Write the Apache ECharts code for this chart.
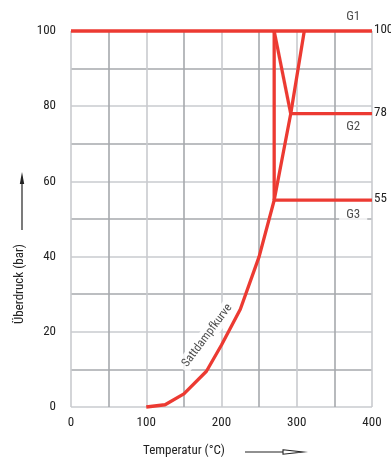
<!DOCTYPE html>
<html>
<head>
<meta charset="utf-8">
<script src="https://cdn.jsdelivr.net/npm/echarts@6/dist/echarts.min.js"></script>
<style>
  html, body { margin: 0; padding: 0; background: #fff; }
  #chart { width: 391px; height: 459px; }
</style>
</head>
<body>
<div id="chart"></div>
<script>
// Saturated steam curve: temperature (°C) vs. gauge pressure (bar)
const curveTemp = [100, 125, 150, 180, 200, 225, 250, 270, 292, 310];
const curvePressure = [0, 0.6, 3.5, 9.5, 16.5, 26, 40, 55, 78, 100];

// Pressure stages G1..G3 and the start temperature of each level line
const stageNames = ['G1', 'G2', 'G3'];
const stagePressure = [100, 78, 55];
const stageStartTemp = [0, 292, 270];

// Connecting lines between stages
const verticalTemp = [270, 270];
const verticalPressure = [55, 100];
const diagonalTemp = [270, 292];
const diagonalPressure = [100, 78];

// Axis ticks
const xTicks = [0, 100, 200, 300, 400];
const yTicks = [0, 20, 40, 60, 80, 100];
const curveLabel = 'Sattdampfkurve';
const curveLabelPos = [181, 19];
const stageLabelTemp = 375;

const RED = '#ec3a32';
const FONT = '"Roboto Condensed", "Liberation Sans Narrow", sans-serif';
const GRID_COLORS = ['#c9cbcf', '#a6a9ad'];

const zip = (xs, ys) => xs.map((x, i) => [x, ys[i]]);
const redLine = { color: RED, width: 3.3 };

const series = [];

// saturation curve
series.push({
  type: 'line', data: zip(curveTemp, curvePressure), symbol: 'none',
  lineStyle: redLine, clip: false, z: 5
});

// stage level lines with value labels at the right end
stagePressure.forEach((p, i) => {
  series.push({
    type: 'line', data: [[stageStartTemp[i], p], [xTicks[xTicks.length - 1], p]],
    symbol: 'none', lineStyle: redLine, clip: false, z: 5,
    endLabel: {
      show: true, formatter: String(p), distance: 2,
      color: '#222', fontFamily: FONT, fontSize: 13, offset: [0, -1]
    }
  });
});

series.push({
  type: 'line', data: zip(verticalTemp, verticalPressure), symbol: 'none',
  lineStyle: redLine, clip: false, z: 5
});
series.push({
  type: 'line', data: zip(diagonalTemp, diagonalPressure), symbol: 'none',
  lineStyle: redLine, clip: false, z: 5
});

// stage names: G1 above its line, G2/G3 below
stageNames.forEach((name, i) => {
  series.push({
    type: 'scatter', symbolSize: 0, clip: false, z: 6,
    data: [[stageLabelTemp, stagePressure[i]]],
    label: {
      show: true, formatter: name,
      position: i === 0 ? 'top' : 'bottom', distance: i === 0 ? 8 : 7,
      color: '#222', fontFamily: FONT, fontSize: 13,
      backgroundColor: i === 2 ? '#fff' : 'transparent',
      padding: i === 2 ? [1, 7, 1, 7] : 0
    }
  });
});

// curve name along the curve
series.push({
  type: 'scatter', symbolSize: 0, clip: false, z: 4,
  data: [curveLabelPos],
  label: {
    show: true, formatter: curveLabel, position: 'inside', rotate: 53,
    color: '#222', fontFamily: FONT, fontSize: 12,
    backgroundColor: '#fff', padding: [2, 4]
  }
});

const chart = echarts.init(document.getElementById('chart'), null, { renderer: 'canvas' });
chart.setOption({
  animation: false,
  backgroundColor: '#fff',
  grid: { left: 71, right: 19, top: 31, bottom: 52, containLabel: false },
  xAxis: {
    type: 'value', min: 0, max: 400, interval: 50,
    axisLine: { show: false }, axisTick: { show: false },
    axisLabel: {
      margin: 9, color: '#222', fontFamily: FONT, fontSize: 13,
      formatter: v => (xTicks.includes(v) ? String(v) : '')
    },
    splitLine: { show: true, lineStyle: { color: GRID_COLORS, width: 1.6 } }
  },
  yAxis: {
    type: 'value', min: 0, max: 100, interval: 10,
    axisLine: { show: false }, axisTick: { show: false },
    axisLabel: {
      margin: 15, color: '#222', fontFamily: FONT, fontSize: 13,
      formatter: v => (yTicks.includes(v) ? String(v) : '')
    },
    splitLine: { show: true, lineStyle: { color: GRID_COLORS, width: 1.6 } }
  },
  graphic: [
    // y-axis title with upward arrow
    {
      type: 'text', x: 20, y: 284, rotation: Math.PI / 2, z: 10,
      style: { text: 'Überdruck (bar)', fill: '#222', font: '13px ' + FONT,
               textAlign: 'center', textVerticalAlign: 'middle' }
    },
    { type: 'line', shape: { x1: 22, y1: 230, x2: 22, y2: 180 },
      style: { stroke: '#222', lineWidth: 1.2 } },
    { type: 'polygon', shape: { points: [[22, 172], [19.8, 184], [24.2, 184]] },
      style: { fill: '#222' } },
    // x-axis title with rightward arrow
    {
      type: 'text', x: 184, y: 451, z: 10,
      style: { text: 'Temperatur (°C)', fill: '#222', font: '13px ' + FONT,
               textAlign: 'center', textVerticalAlign: 'middle' }
    },
    { type: 'line', shape: { x1: 245, y1: 452, x2: 284, y2: 452 },
      style: { stroke: '#222', lineWidth: 1.2 } },
    { type: 'polygon', shape: { points: [[283, 449.8], [303, 452], [283, 454.2]] },
      style: { fill: '#fff', stroke: '#222', lineWidth: 1.1 } }
  ],
  series: series
});
</script>
</body>
</html>
